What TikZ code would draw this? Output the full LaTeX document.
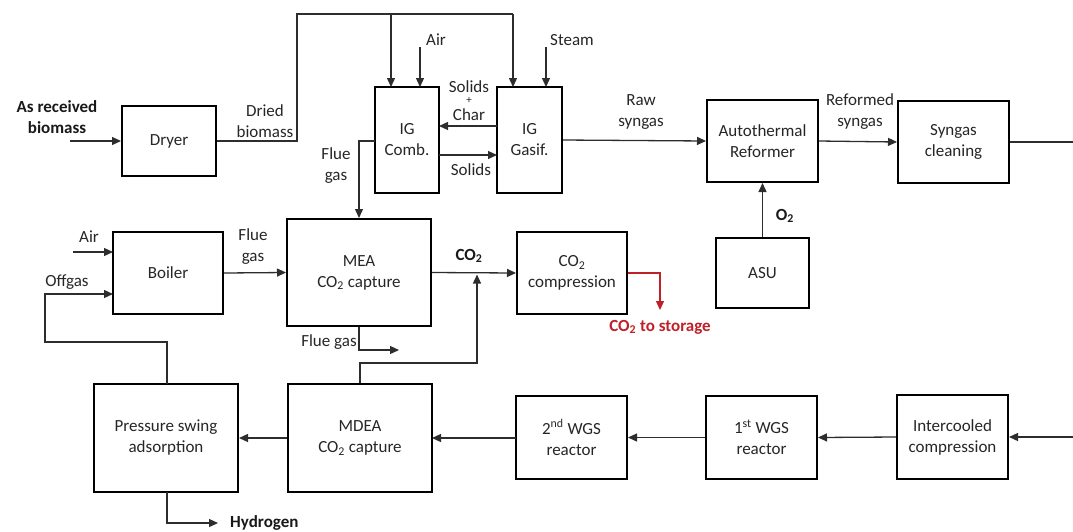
\documentclass[tikz,border=0pt]{standalone}
\usepackage{fontspec}
\setmainfont{Carlito}
\usetikzlibrary{arrows.meta,calc}
\definecolor{lnc}{RGB}{45,45,45}
\definecolor{redc}{RGB}{192,32,40}
\begin{document}
\begin{tikzpicture}[x=1pt,y=-1pt,
  box/.style={draw=black,line width=2pt,fill=white,inner sep=0pt,align=center,text=black!85,font=\fontsize{17}{21}\selectfont},
  line/.style={draw=lnc,line width=1.3pt},
  arr/.style={line,-{Triangle[length=9pt,width=8pt]}},
  lbl/.style={align=center,font=\fontsize{17}{21}\selectfont,inner sep=0pt,text=black!85},
  blbl/.style={align=center,font=\fontsize{17}{21}\selectfont\bfseries,inner sep=0pt,text=black!90}]
\useasboundingbox (0,0) rectangle (1073,531);

% boxes
\node[box,minimum width=94pt,minimum height=70pt] (dryer) at (169,141) {Dryer};
\node[box,minimum width=64pt,minimum height=106pt] (igc) at (407,140) {IG\\Comb.};
\node[box,minimum width=65pt,minimum height=106pt] (igg) at (529.5,140) {IG\\Gasif.};
\node[box,minimum width=111pt,minimum height=82pt] (atr) at (762.5,141) {Autothermal\\Reformer};
\node[box,minimum width=111pt,minimum height=82pt] (sc) at (953.5,142) {Syngas\\cleaning};
\node[box,minimum width=93pt,minimum height=70pt] (asu) at (762.5,273) {ASU};
\node[box,minimum width=110pt,minimum height=82pt] (boiler) at (168,273) {Boiler};
\node[box,minimum width=144pt,minimum height=107pt] (mea) at (359,272.5) {MEA\\CO\textsubscript{2} capture};
\node[box,minimum width=110pt,minimum height=82pt] (co2c) at (572,273) {CO\textsubscript{2}\\compression};
\node[box,minimum width=144pt,minimum height=108pt] (psa) at (166,438) {Pressure swing\\adsorption};
\node[box,minimum width=144pt,minimum height=108pt] (mdea) at (360,438) {MDEA\\CO\textsubscript{2} capture};
\node[box,minimum width=111pt,minimum height=83pt] (wgs2) at (571.5,437.5) {2\textsuperscript{nd} WGS\\reactor};
\node[box,minimum width=111pt,minimum height=83pt] (wgs1) at (761.5,437.5) {1\textsuperscript{st} WGS\\reactor};
\node[box,minimum width=111pt,minimum height=84pt] (ic) at (952.5,437) {Intercooled\\compression};

% free ends and bends
\coordinate (bioin) at (70,141);
\coordinate (b1) at (297,141);
\coordinate (b2) at (297,14);
\coordinate (b3) at (391,14);
\coordinate (b4) at (513,14);
\coordinate (b3e) at (391,87);
\coordinate (b4e) at (513,87);
\coordinate (airc) at (420,47);
\coordinate (airce) at (420,87);
\coordinate (steam) at (546,47);
\coordinate (steame) at (546,87);
\coordinate (scg) at (497,126);
\coordinate (sce) at (439,126);
\coordinate (sog) at (439,155);
\coordinate (soe) at (497,155);
\coordinate (fg1) at (375,141);
\coordinate (fg2) at (359,141);
\coordinate (airb) at (73,252);
\coordinate (airbe) at (113,252);
\coordinate (of1) at (167,384);
\coordinate (of2) at (167,342);
\coordinate (of3) at (45,342);
\coordinate (of4) at (45,294);
\coordinate (of5) at (113,294);
\coordinate (scout) at (1073,142);
\coordinate (icin) at (1073,437);
\coordinate (m1) at (360,363);
\coordinate (m2) at (477,363);
\coordinate (m3) at (477,274.5);
\coordinate (fgd) at (359,350);
\coordinate (fgout) at (399,350);
\coordinate (st1) at (660,273);
\coordinate (store) at (660,310);
\coordinate (w2o) at (516,438);
\coordinate (mdi) at (432,438);
\coordinate (h0) at (167,492);
\coordinate (h1) at (167,523);
\coordinate (h2) at (218,523);

% labels
\node[blbl] (lbio) at (57,117) {As received\\biomass};
\node[lbl] (ldried) at (265,121) {Dried\\biomass};
\node[lbl,anchor=west] (lair1) at (426,40) {Air};
\node[lbl,anchor=west] (lsteam) at (550,40) {Steam};
\node[lbl] (lsc1) at (469,86.5) {Solids};
\node[lbl,font=\fontsize{11}{11}\selectfont] (lsc2) at (469,100.5) {+};
\node[lbl] (lsc3) at (469,114.5) {Char};
\node[lbl] (lsol) at (471,170) {Solids};
\node[lbl] (lfg1) at (336,166) {Flue\\gas};
\node[lbl] (lraw) at (641,112) {Raw\\syngas};
\node[lbl] (lref) at (860,112) {Reformed\\syngas};
\node[blbl] (lo2) at (785,216) {O\textsubscript{2}};
\node[lbl] (lair2) at (89,237) {Air};
\node[lbl] (loff) at (67,282) {Offgas};
\node[lbl] (lfg2) at (253,247) {Flue\\gas};
\node[blbl] (lco2) at (469,256) {CO\textsubscript{2}};
\node[lbl] (lfg3) at (329,342) {Flue gas};
\node[blbl,text=redc] (lstore) at (660,327) {CO\textsubscript{2} to storage};
\node[blbl,anchor=west] (lh2) at (230,523) {Hydrogen};

% connectors
\draw[arr] (bioin) -- (dryer.west);
\draw[line] (dryer.east) -- (b1) -- (b2) -- (b4);
\draw[arr] (b4) -- (b4e);
\draw[arr] (b3) -- (b3e);
\draw[arr] (airc) -- (airce);
\draw[arr] (steam) -- (steame);
\draw[arr] (scg) -- (sce);
\draw[arr] (sog) -- (soe);
\draw[arr] (fg1) -- (fg2) -- (mea.north);
\draw[arr] (igg.east) -- (atr.west);
\draw[arr] (atr.east) -- (sc.west);
\draw[line] (sc.east) -- (scout);
\draw[arr] (asu.north) -- (atr.south);
\draw[arr] (airb) -- (airbe);
\draw[arr] (of1) -- (of2) -- (of3) -- (of4) -- (of5);
\draw[arr] (boiler.east) -- (mea.west);
\draw[arr] (mea.east) -- (co2c.west);
\draw[arr] (mdea.north) -- (m1) -- (m2) -- (m3);
\draw[arr] (mea.south) -- (fgd) -- (fgout);
\draw[arr,draw=redc] (co2c.east) -- (st1) -- (store);
\draw[arr] (icin) -- (ic.east);
\draw[arr] (ic.west) -- (wgs1.east);
\draw[arr] (wgs1.west) -- (wgs2.east);
\draw[arr] (w2o) -- (mdi);
\draw[arr] (mdea.west) -- (psa.east);
\draw[arr] (h0) -- (h1) -- (h2);
\end{tikzpicture}
\end{document}
